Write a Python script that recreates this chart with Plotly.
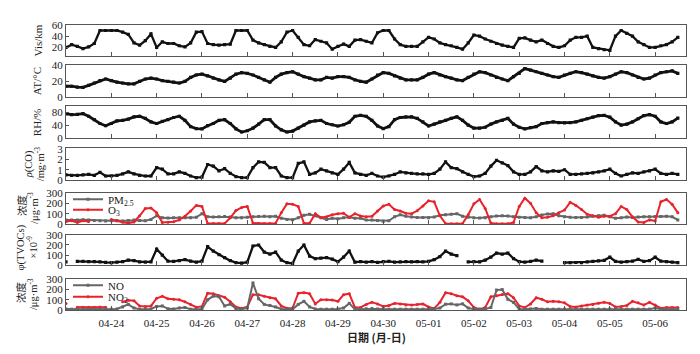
import plotly.graph_objects as go
import pandas as pd

# ---------------- data (3-hourly samples from 04-23 00:00) ----------------
times = pd.date_range("2019-04-23 00:00", periods=109, freq="3h")

vis = [20, 25, 22, 18, 21, 27, 50, 50, 50, 50, 47, 43, 28, 24, 32, 44, 20, 30, 27, 27,
       23, 21, 28, 47, 48, 27, 25, 24, 25, 26, 50, 50, 50, 33, 28, 25, 22, 20, 30, 47,
       50, 38, 25, 23, 34, 31, 28, 17, 22, 26, 22,
       33, 34, 31, 28, 46, 50, 50, 35, 25, 22, 22, 22, 30, 38, 35, 28, 25, 23, 20, 17,
       28, 42, 40, 35, 31, 27, 24, 22, 20, 36, 37, 33, 30, 33, 27, 22, 20, 23, 33, 38,
       38, 40, 20, 18, 16, 15, 40, 50, 45, 40, 30, 25, 20, 20, 23, 25, 30, 38]

at = [14, 14, 13, 12.5, 15, 18, 21, 23, 21, 19, 18, 17, 17, 20, 23, 24, 23, 21, 20, 19,
      18, 20, 25, 28, 29, 27, 24, 22, 20, 24, 29, 31, 30, 28, 25, 22, 19, 25, 29, 31,
      32, 29, 26, 24, 22, 22, 25, 24, 26, 26, 25,
      22, 20, 19, 23, 28, 31, 30, 27, 24, 22, 22, 22, 25, 29, 31, 28, 26, 24, 22, 21,
      25, 29, 32, 31, 28, 25, 23, 21, 26, 30, 36, 34, 32, 30, 28, 26, 25, 28, 30, 32,
      31, 29, 27, 25, 24, 26, 29, 32, 31, 28, 25, 23, 24, 28, 31, 32, 33, 30]

rh = [76, 73, 74, 76, 68, 57, 45, 38, 45, 53, 55, 59, 66, 68, 61, 50, 45, 52, 57, 64,
      68, 55, 35, 29, 28, 38, 45, 55, 57, 45, 28, 18, 22, 30, 43, 57, 57, 37, 25, 18,
      21, 30, 40, 50, 53, 55, 45, 41, 37, 41, 49,
      68, 71, 68, 55, 37, 29, 35, 57, 64, 66, 66, 61, 50, 37, 43, 50, 55, 61, 66, 55,
      40, 30, 30, 33, 43, 50, 55, 61, 43, 33, 28, 32, 35, 45, 48, 50, 48, 47, 48, 50,
      55, 60, 65, 70, 71, 65, 50, 40, 43, 50, 60, 70, 73, 68, 50, 45, 50, 62]

co = [0.5, 0.47, 0.47, 0.5, 0.55, 0.47, 0.75, 0.4, 0.4, 0.47, 0.6, 0.8, 0.6, 0.47, 0.4, 0.4,
      1.2, 1.05, 0.6, 0.6, 0.8, 0.65, 0.4, 0.25, 0.3, 1.5, 1.35, 0.9, 1.1, 0.65, 0.35, 0.25,
      0.25, 1.2, 1.75, 1.7, 1.2, 1.2, 0.4, 0.25, 0.25, 1.6, 1.75, 0.55, 0.7, 1.05, 0.9, 0.7,
      0.55, 1.05, 1.7,
      0.7, 0.55, 0.47, 0.65, 0.4, 0.3, 0.4, 0.55, 0.8, 0.7, 0.65, 0.6, 0.6, 0.55, 0.65, 1.05,
      1.75, 1.2, 1.1, 0.8, 0.55, 0.35, 0.4, 0.65, 1.35, 1.9, 1.65, 1.4, 0.8, 0.55, 0.55, 0.8,
      1.3, 0.9, 0.8, 0.9, 0.85, 1.0, 0.55, 0.55, 0.6, 0.65, 0.7, 0.8, 0.9, 1.05, 0.65, 0.4,
      0.55, 0.7, 0.65, 0.8, 0.9, 1.05, 0.65, 0.55, 0.65, 0.55]

pm25 = [40, 38, 40, 42, 40, 35, 32, 30, 33, 35, 30, 35, 38, 35, 32, 45, 80, 60, 58, 62,
        60, 62, 60, 65, 100, 70, 68, 70, 72, 68, 62, 60, 65, 70, 72, 75, 70, 75, 55, 45,
        42, 60, 85, 95, 80, 60, 45, 55, 50, 60, 65,
        57, 55, 40, 38, 35, 28, 32, 70, 90, 75, 68, 63, 63, 62, 68, 85, 90, 95, 100, 75,
        65, 62, 58, 62, 70, 78, 80, 78, 70, 65, 63, 62, 70, 88, 98, 100, 80, 70, 65, 63,
        63, 68, 75, 80, 85, 70, 55, 60, 68, 63, 68, 70, 70, 73, 72, 75, 70, 40]

o3 = [25, 32, 16, 32, 25, None, None, None, 45, 30, 18, 8, 20, 80, 150, 155, 110, 15, 18, 22,
      40, 75, 125, 180, 170, 6, 5, 5, 6, 60, 130, 160, 170, 10, 5, 5, 5, 8, 110, 195,
      190, 170, 8, 8, 100, 63, 70, 90, 100, 105, 65,
      100, 78, 70, 75, 125, 174, 190, 140, 126, 105, 100, 128, 175, 225, 215, 80, 5, 2, 2, 5,
      90, 195, 237, 150, 10, 2, 2, 2, 15, 170, 250, 200, 110, 60, 65, 80, 110, 135, 210, 180,
      140, 95, 80, 65, 75, 75, 100, 170, 140, 70, 20, 15, 40, 30, 215, 237, 190, 110]

tvoc = [32, None, 38, 38, 36, 35, 33, 28, 25, 30, 35, 50, 45, 32, 30, 32, 160, 100, 40, 38,
        45, 55, 40, 30, 40, 185, 140, 105, 75, 45, 25, 20, 30, 190, 200, 130, 110, 130, 50, 25,
        18, 140, 200, 90, 65, 70, 75, 60, 35, 80, 140,
        30, 35, 30, 35, 28, 35, 38, 30, 32, 35, 32, 35, 32, 38, 55, 85, 140, 110, 95, None,
        32, 35, 32, 50, 80, 120, 110, 120, 65, 35, 30, 38, 50, 40, None, None, None, 25, 25, 27,
        25, 32, 38, 42, 48, 79, 38, 30, 35, 40, 57, 38, 45, 79, 40, 35, 30, 25]

no = [10, 8, 10, 8, 10, 8, 10, 10, 8, 10, 30, 55, 20, 8, 8, 10, 35, 40, 12, 10,
      20, 25, 8, 8, 10, 100, 136, 130, 40, 57, 15, 8, 20, 265, 110, 55, 45, 30, 10, 8,
      8, 55, 85, 30, 10, 8, 8, 8, 10, 20, 65,
      8, 10, 12, 15, 10, 8, 8, 8, 8, 8, 8, 8, 8, 8, 10, 20, 57, 60, 50, 60,
      20, 8, 8, 10, 25, 195, 200, 105, 75, 10, 8, 10, 15, 8, 8, 8, 8, 8, 8, 8,
      8, 8, 8, 8, 8, 10, 12, 8, 8, 8, 8, 8, 8, 20, 8, 8, 8, 8]

no2 = [65, None, 28, 28, 28, 28, 30, 28, None, None, 80, 95, 90, 40, 35, 40, 115, 135, 110, 105,
       100, 80, 55, 28, 35, 165, 160, 140, 125, 80, 30, 18, 30, 150, 150, 135, 120, 110, 40, 18,
       20, 165, 170, 160, 60, 100, 100, 98, 85, 150, 160,
       25, 25, 55, 75, 60, 35, 45, 65, 60, 50, 50, 55, 60, 30, 15, 75, 170, 160, 140, 130,
       90, 25, 9, 25, 130, 140, 152, 160, 120, 40, 25, 60, 120, 105, 80, 85, 80, 70, 35, 30,
       40, 50, 55, 66, 75, 65, 30, 35, 45, 85, 70, 50, 75, 50, 18, 25, 25, 25]

tick_dates = ["2019-04-24", "2019-04-25", "2019-04-26", "2019-04-27", "2019-04-28",
              "2019-04-29", "2019-04-30", "2019-05-01", "2019-05-02", "2019-05-03",
              "2019-05-04", "2019-05-05", "2019-05-06"]
tick_labels = ["04-24", "04-25", "04-26", "04-27", "04-28", "04-29", "04-30",
               "05-01", "05-02", "05-03", "05-04", "05-05", "05-06"]

for arr in (vis, at, rh, co, pm25, o3, tvoc, no, no2):
    assert len(arr) == len(times), len(arr)

# ---------------- layout helpers ----------------
W, H = 700, 354
L, R = 66, 14
PW = W - L - R
SERIF = "Liberation Serif, Times New Roman, serif"
CJK = "Noto Sans CJK SC"

def py(p):
    return 1 - p / H

def px(p):
    return (p - L) / PW

panels = [(19.5, 51.7), (61, 94.7), (104, 136.3), (147.3, 180.3),
          (193.3, 225.7), (236.7, 268.3), (282.7, 314.7)]
yranges = [[5, 60], [0, 40.5], [0, 99], [0, 3.05], [0, 302], [0, 302], [0, 302]]
ytv = [[20, 40, 60], [0, 20, 40], [0, 40, 80], [0, 1, 2, 3],
       [0, 100, 200, 300], [0, 100, 200, 300], [0, 100, 200, 300]]

BLACK = "#111111"
RED = "#e8232b"
GRAY = "#666666"

fig = go.Figure()

def add(y, i, color, symbol, name=None, legend=None, width=2.3, size=3.2):
    ax = "" if i == 1 else str(i)
    fig.add_trace(go.Scatter(
        x=times, y=y, xaxis="x" + ax, yaxis="y" + ax, mode="lines+markers",
        line=dict(color=color, width=width),
        marker=dict(color=color, symbol=symbol, size=size),
        connectgaps=False, name=name or "", showlegend=legend is not None,
        legend=legend or "legend"))

add(vis, 1, BLACK, "square")
add(at, 2, BLACK, "square", width=2.8)
add(rh, 3, BLACK, "square", width=2.8)
add(co, 4, BLACK, "square")
add(pm25, 5, GRAY, "square", name="PM<sub>2.5</sub>", legend="legend", width=2.0, size=3)
add(o3, 5, RED, "circle", name="O<sub>3</sub>", legend="legend2", width=2.0, size=3)
add(tvoc, 6, BLACK, "square")
add(no2, 7, RED, "circle", name="NO<sub>2</sub>", legend="legend4", width=2.0, size=3)
add(no, 7, GRAY, "square", name="NO", legend="legend3", width=2.0, size=3)

layout = dict(
    width=W, height=H, margin=dict(l=L, r=R, t=0, b=0),
    paper_bgcolor="white", plot_bgcolor="white",
    font=dict(family=SERIF, size=11, color="#222"),
)

for i in range(1, 8):
    ax = "" if i == 1 else str(i)
    top, bot = panels[i - 1]
    layout["xaxis" + ax] = dict(
        domain=[0, 1], anchor="y" + ax, type="date",
        range=["2019-04-23 00:00", "2019-05-06 16:20"],
        tickvals=tick_dates, ticktext=tick_labels, showticklabels=(i == 7),
        ticks="inside", ticklen=4, tickcolor="#555", tickwidth=1,
        showline=True, mirror=True, linecolor="#555", linewidth=1,
        showgrid=False, zeroline=False, ticklabelstandoff=3,
        tickfont=dict(family=SERIF, size=11, color="#222"),
        **({} if i == 1 else {"matches": "x"}))
    layout["yaxis" + ax] = dict(
        domain=[py(bot), py(top)], anchor="x" + ax,
        range=yranges[i - 1], tickvals=ytv[i - 1],
        ticks="inside", ticklen=3, tickcolor="#555",
        showline=True, mirror=True, linecolor="#555", linewidth=1,
        showgrid=False, zeroline=False,
        tickfont=dict(family=SERIF, size=11, color="#222"))

leg_common = dict(xanchor="left", yanchor="middle", bgcolor="rgba(0,0,0,0)",
                  borderwidth=0, font=dict(family=SERIF, size=11, color="#222"),
                  itemwidth=30)
layout["legend"] = dict(x=px(68), y=py(200), **leg_common)
layout["legend2"] = dict(x=px(68), y=py(211), **leg_common)
layout["legend3"] = dict(x=px(68), y=py(289), **leg_common)
layout["legend4"] = dict(x=px(68), y=py(301), **leg_common)

fig.update_layout(**layout)

# y-axis titles (rotated)
def ytitle(xp, yp, text, family=SERIF, size=10.5):
    fig.add_annotation(x=px(xp), y=py(yp), xref="paper", yref="paper",
                       text=text, textangle=-90, showarrow=False,
                       xanchor="center", yanchor="middle",
                       font=dict(family=family, size=size, color="#222"))

ytitle(38, 35.6, "Vis/km", size=11)
ytitle(37, 77.8, "AT/°C", size=11)
ytitle(37, 120.2, "RH/%", size=11)
ytitle(29, 163.8, "<i>ρ</i>(CO)")
ytitle(39, 163.8, "/mg·m<sup>-3</sup>")
ytitle(21, 206, "浓度", family=CJK)
ytitle(32.5, 209.5, "/μg·m<sup>-3</sup>")
ytitle(21, 250, "φ(TVOCs)")
ytitle(32, 250, "×10<sup>-9</sup>")
ytitle(21, 296, "浓度", family=CJK)
ytitle(32.5, 298.7, "/μg·m<sup>-3</sup>")

fig.add_annotation(x=px(376), y=py(343), xref="paper", yref="paper",
                   text="<b>日期 (月-日)</b>", showarrow=False, xanchor="center",
                   yanchor="middle", font=dict(family=CJK, size=11, color="#222"))

fig.write_html("out.html")
